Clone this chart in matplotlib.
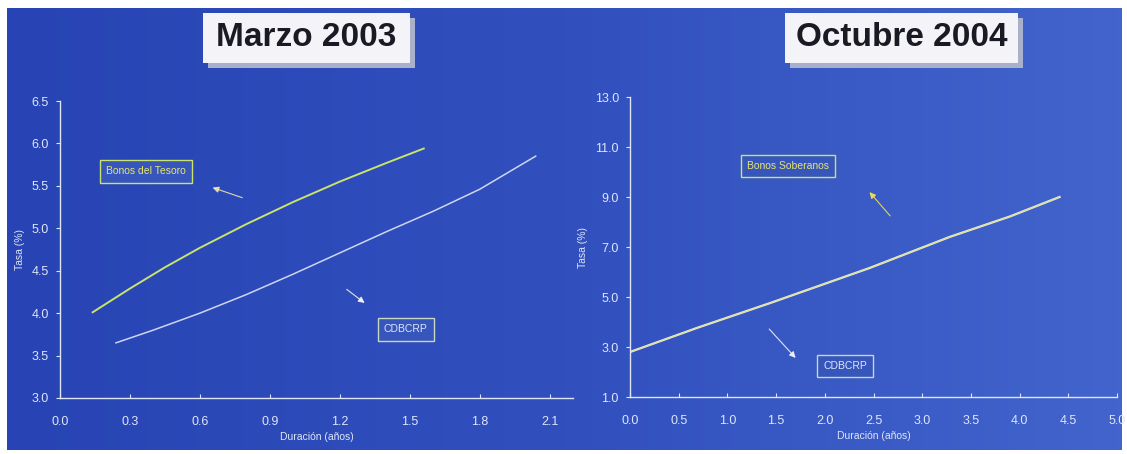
import numpy as np
import matplotlib
matplotlib.use("Agg")
import matplotlib.pyplot as plt
from matplotlib.colors import LinearSegmentedColormap
from matplotlib.patches import Rectangle

# Curvas de rendimiento: marzo 2003
dur_tesoro = [0.14, 0.30, 0.45, 0.60, 0.80, 1.00, 1.20, 1.40, 1.56]
tasa_tesoro = [4.01, 4.29, 4.54, 4.77, 5.05, 5.31, 5.55, 5.77, 5.94]
dur_cdbcrp_03 = [0.24, 0.40, 0.60, 0.80, 1.00, 1.20, 1.40, 1.60, 1.80, 2.04]
tasa_cdbcrp_03 = [3.65, 3.80, 4.00, 4.22, 4.46, 4.71, 4.96, 5.20, 5.46, 5.85]

# Curvas de rendimiento: octubre 2004
dur_soberanos = [0.0, 0.70, 1.44, 2.46, 3.28, 3.90, 4.41]
tasa_soberanos = [2.8, 3.78, 4.76, 6.16, 7.40, 8.22, 9.00]
dur_cdbcrp_04 = [0.0, 0.70, 1.44, 2.46, 3.28, 3.90, 4.41]
tasa_cdbcrp_04 = [2.8, 3.78, 4.76, 6.16, 7.40, 8.22, 9.00]

xticks_03 = [0.0, 0.3, 0.6, 0.9, 1.2, 1.5, 1.8, 2.1]
yticks_03 = [3.0, 3.5, 4.0, 4.5, 5.0, 5.5, 6.0, 6.5]
xticks_04 = [0.0, 0.5, 1.0, 1.5, 2.0, 2.5, 3.0, 3.5, 4.0, 4.5, 5.0]
yticks_04 = [1.0, 3.0, 5.0, 7.0, 9.0, 11.0, 13.0]

plt.rcParams["font.family"] = ["Liberation Sans", "DejaVu Sans"]

W, H = 1127, 454
fig = plt.figure(figsize=(W / 100, H / 100), dpi=100)
fig.patch.set_facecolor("white")

# fondo azul con degradado horizontal
bg = fig.add_axes([7 / W, 1 - 450 / H, (1122 - 7) / W, (450 - 8) / H])
cmap = LinearSegmentedColormap.from_list("fondo", ["#2844b4", "#3150be", "#4264cc"])
grad = np.linspace(0, 1, 256).reshape(1, -1)
bg.imshow(grad, aspect="auto", cmap=cmap, extent=[0, 1, 0, 1])
bg.set_axis_off()

fg = "#dfe6f7"
yellow = "#e8e46e"
green = "#c9e36b"
boxfill = "#3756bc"


def style_axes(ax, xlim, ylim, xticks, yticks):
    ax.set_facecolor("none")
    ax.set_xlim(*xlim)
    ax.set_ylim(*ylim)
    for s in ("top", "right"):
        ax.spines[s].set_visible(False)
    for s in ("left", "bottom"):
        ax.spines[s].set_color(fg)
        ax.spines[s].set_linewidth(1.0)
    ax.set_xticks(xticks)
    ax.set_xticklabels([f"{t:.1f}" for t in xticks])
    ax.set_yticks(yticks)
    ax.set_yticklabels([f"{t:.1f}" for t in yticks])
    ax.tick_params(colors=fg, labelcolor=fg, labelsize=9, length=3, width=0.8)
    ax.tick_params(axis="x", direction="in", pad=13)
    ax.tick_params(axis="y", direction="out", pad=5)
    ax.set_xlabel("Duración (años)", color=fg, fontsize=7.5, labelpad=3)
    ax.set_ylabel("Tasa (%)", color=fg, fontsize=7.5, labelpad=5)


def tag(ax, x, y, text, color, edge):
    ax.text(x, y, text, color=color, fontsize=7.5, ha="center", va="center",
            bbox=dict(boxstyle="square,pad=0.6", fc=boxfill, ec=edge, lw=1.0))


def arrow(ax, head, tail, color):
    ax.annotate("", xy=head, xytext=tail,
                arrowprops=dict(arrowstyle="-|>", color=color, lw=0.8,
                                mutation_scale=9, alpha=0.9))


# panel izquierdo
ax1 = fig.add_axes([60 / W, 1 - 398 / H, 513 / W, 297 / H])
style_axes(ax1, (0, 2.2), (3.0, 6.5), xticks_03, yticks_03)
ax1.plot(dur_tesoro, tasa_tesoro, color=green, lw=1.4)
ax1.plot(dur_cdbcrp_03, tasa_cdbcrp_03, color="#dfe6f6", lw=1.1, alpha=0.9)
tag(ax1, 0.37, 5.67, "Bonos del Tesoro", yellow, green)
arrow(ax1, (0.643, 5.49), (0.793, 5.35), "#f0e8b0")
tag(ax1, 1.483, 3.81, "CDBCRP", fg, "#c8d8c0")
arrow(ax1, (1.316, 4.10), (1.22, 4.30), "#f4f4f4")

# panel derecho
ax2 = fig.add_axes([630 / W, 1 - 397 / H, 487 / W, 300 / H])
style_axes(ax2, (0, 5.0), (1.0, 13.0), xticks_04, yticks_04)
ax2.plot(dur_cdbcrp_04, tasa_cdbcrp_04, color="#e8ecf6", lw=1.6)
ax2.plot(dur_soberanos, tasa_soberanos, color="#e0e070", lw=0.9, alpha=0.8)
tag(ax2, 1.62, 10.24, "Bonos Soberanos", yellow, green)
arrow(ax2, (2.44, 9.28), (2.69, 8.16), "#f2e24a")
tag(ax2, 2.21, 2.24, "CDBCRP", fg, "#c8d8c0")
arrow(ax2, (1.72, 2.48), (1.41, 3.80), "#f4f4f4")


# títulos en recuadro blanco con sombra
def title_box(x0, x1, y0, y1, text):
    fig.patches.append(Rectangle((x0 / W + 5 / W, 1 - (y1 + 5) / H), (x1 - x0) / W, (y1 - y0) / H,
                                 transform=fig.transFigure, fc="#a8b0cc", ec="none", zorder=2))
    fig.patches.append(Rectangle((x0 / W, 1 - y1 / H), (x1 - x0) / W, (y1 - y0) / H,
                                 transform=fig.transFigure, fc="#f4f4f8", ec="none", zorder=3))
    fig.text((x0 + x1) / 2 / W, 1 - (y0 + y1) / 2 / H, text, ha="center", va="center",
             fontsize=24, fontweight="bold", color="#1a1a24", zorder=4)


title_box(203, 410, 13, 63, "Marzo 2003")
title_box(785, 1018, 13, 63, "Octubre 2004")

fig.savefig("out.png", dpi=100, facecolor=fig.get_facecolor())
